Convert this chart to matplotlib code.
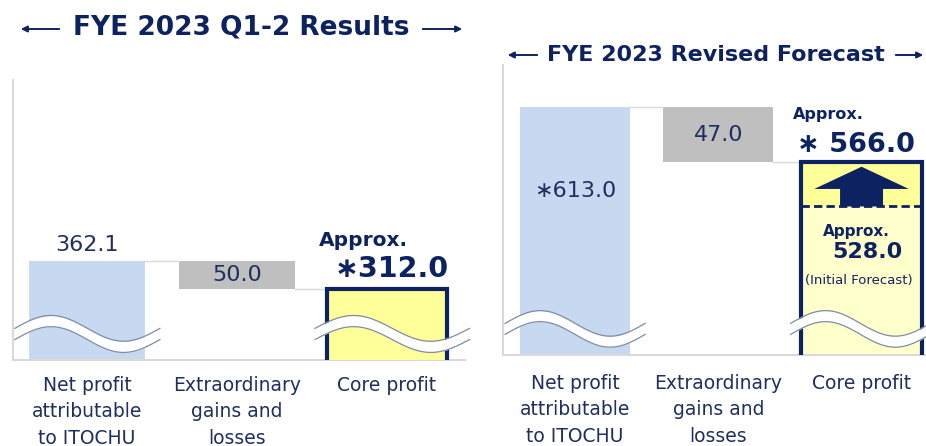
import numpy as np
import matplotlib
matplotlib.use("Agg")
import matplotlib.pyplot as plt
from matplotlib.patches import FancyArrowPatch, FancyArrow
from matplotlib.transforms import blended_transform_factory

# data (billion yen)
categories = ["Net profit\nattributable\nto ITOCHU", "Extraordinary\ngains and\nlosses", "Core profit"]
q12_values = [362.1, 50.0, 312.0]
fc_values = [613.0, 47.0, 566.0]
fc_initial_core = 528.0

NAVY = "#0D2260"
TXT = "#1F2F5F"
BLUE = "#C6D9F1"
GRAY = "#BFBFBF"
YELLOW = "#FFFF99"
PALE = "#FFFFCC"
LINE = "#D9D9D9"

W, H = 926, 446
fig = plt.figure(figsize=(W / 100, H / 100), dpi=100)


def px_axes(x0, y0, x1, y1):
    return fig.add_axes([x0 / W, 1 - y1 / H, (x1 - x0) / W, (y1 - y0) / H])


def fig_arrow(x0, x1, y):
    # long thin arrow in pixel coordinates
    a = FancyArrowPatch((x0 / W, 1 - y / H), (x1 / W, 1 - y / H), transform=fig.transFigure,
                        arrowstyle="-|>", mutation_scale=9, lw=1.4, color=NAVY)
    fig.add_artist(a)


def draw_break(ax, x0, x1, yc, amp=0.046, thick=0.04):
    t = np.linspace(0, 1, 120)
    xs = x0 + (x1 - x0) * t
    ys = yc + amp * np.sin(2 * np.pi * t)
    ax.fill_between(xs, ys - thick / 2, ys + thick / 2, color="white", transform=ax.transAxes,
                    zorder=5, clip_on=False, lw=0)
    for s in (-1, 1):
        ax.plot(xs, ys + s * thick / 2, color="#7F8CA3", lw=0.9, transform=ax.transAxes,
                zorder=6, clip_on=False)


def style_axes(ax, xlim, ylim):
    ax.set_xlim(*xlim)
    ax.set_ylim(*ylim)
    for s in ("top", "right"):
        ax.spines[s].set_visible(False)
    for s in ("left", "bottom"):
        ax.spines[s].set_color(LINE)
        ax.spines[s].set_linewidth(1.5)
    ax.set_xticks([])
    ax.set_yticks([])
    ax.patch.set_alpha(0)


def cat_labels(ax, ypos):
    tr = blended_transform_factory(ax.transData, ax.transAxes)
    for i, c in enumerate(categories):
        ax.text(i, ypos, c, transform=tr, ha="center", va="top", fontsize=13.5,
                color=TXT, linespacing=1.5)


# ---------------- left panel: Q1-2 results ----------------
ax1 = px_axes(13, 80, 465, 360)
style_axes(ax1, (-0.493, 2.52), (185, 685))
bw = 0.77
net, extra, core = q12_values
ax1.bar(0, net, width=bw, color=BLUE, lw=0)
ax1.bar(1, extra, bottom=net - extra, width=bw, color=GRAY, lw=0)
ax1.bar(2, core, width=0.8, color=YELLOW, edgecolor=NAVY, lw=3, zorder=3)
ax1.plot([bw / 2, 1 - bw / 2], [net, net], color=LINE, lw=1)
ax1.plot([1 + bw / 2, 2 - 0.4], [net - extra, net - extra], color=LINE, lw=1)

ax1.annotate(f"{net:.1f}", (0, net), xytext=(0, 4), textcoords="offset points",
             ha="center", va="bottom", fontsize=16, color=TXT)
ax1.text(1, net - extra / 2, f"{extra:.1f}", ha="center", va="center", fontsize=16, color=TXT)
ax1.annotate("Approx.", (2, core), xytext=(-17, 35), textcoords="offset points",
             ha="center", va="center", fontsize=14.5, fontweight="bold", color=NAVY)
ax1.annotate(f"∗{core:.1f}", (2, core), xytext=(3, 14), textcoords="offset points",
             ha="center", va="center", fontsize=20.5, fontweight="bold", color=NAVY)

draw_break(ax1, 0.004, 0.325, 0.093)
draw_break(ax1, 0.668, 1.01, 0.093)
cat_labels(ax1, -0.056)

fig.text(241 / W, 1 - 28 / H, "FYE 2023 Q1-2 Results", ha="center", va="center",
         fontsize=19, fontweight="bold", color=NAVY)
fig_arrow(62, 18, 29)
fig_arrow(420, 465, 29)

# ---------------- right panel: revised forecast ----------------
ax2 = px_axes(503, 65, 926, 355)
style_axes(ax2, (-0.503, 2.45), (401, 649))
net2, extra2, core2 = fc_values
ax2.bar(0, net2, width=bw, color=BLUE, lw=0)
ax2.bar(1, extra2, bottom=net2 - extra2, width=bw, color=GRAY, lw=0)
ax2.bar(2, core2, width=0.84, color=YELLOW, lw=0, zorder=2)
ax2.bar(2, fc_initial_core, width=0.84, color=PALE, lw=0, zorder=2)
ax2.bar(2, core2, width=0.84, fill=False, edgecolor=NAVY, lw=3, zorder=4)
ax2.plot([-0.42 + 2, 0.42 + 2], [fc_initial_core, fc_initial_core], color=NAVY, lw=2,
         ls=(0, (3, 1.5)), zorder=4)
ax2.add_patch(FancyArrow(2, fc_initial_core, 0, core2 - fc_initial_core - 4, width=0.3,
                         head_width=0.66, head_length=19, length_includes_head=True,
                         color=NAVY, lw=0, zorder=3))
ax2.plot([bw / 2, 1 - bw / 2], [net2, net2], color=LINE, lw=1)
ax2.plot([1 + bw / 2, 2 - 0.42], [net2 - extra2, net2 - extra2], color=LINE, lw=1)

ax2.text(0, 541, f"∗{net2:.1f}", ha="center", va="center", fontsize=16, color=TXT)
ax2.text(1, net2 - extra2 / 2, f"{extra2:.1f}", ha="center", va="center", fontsize=16, color=TXT)
ax2.annotate("Approx.", (2, core2), xytext=(-24, 34), textcoords="offset points",
             ha="center", va="center", fontsize=11.5, fontweight="bold", color=NAVY)
ax2.annotate(f"∗ {core2:.1f}", (2, core2), xytext=(-4, 12), textcoords="offset points",
             ha="center", va="center", fontsize=19.5, fontweight="bold", color=NAVY)
ax2.annotate("Approx.", (2, fc_initial_core), xytext=(-4, -18), textcoords="offset points",
             ha="center", va="center", fontsize=11, fontweight="bold", color=NAVY, zorder=6)
ax2.annotate(f"{fc_initial_core:.1f}", (2, fc_initial_core), xytext=(4, -33),
             textcoords="offset points", ha="center", va="center", fontsize=16,
             fontweight="bold", color=NAVY, zorder=6)
ax2.annotate("(Initial Forecast)", (2, fc_initial_core), xytext=(-2, -53),
             textcoords="offset points", ha="center", va="center", fontsize=9.5,
             color=NAVY, zorder=6)

draw_break(ax2, 0.005, 0.336, 0.09, amp=0.044, thick=0.038)
draw_break(ax2, 0.68, 1.01, 0.09, amp=0.044, thick=0.038)
cat_labels(ax2, -0.064)

fig.text(716 / W, 1 - 55 / H, "FYE 2023 Revised Forecast", ha="center", va="center",
         fontsize=16, fontweight="bold", color=NAVY)
fig_arrow(540, 505, 55)
fig_arrow(893, 926, 55)

fig.savefig("out.png", dpi=100)
